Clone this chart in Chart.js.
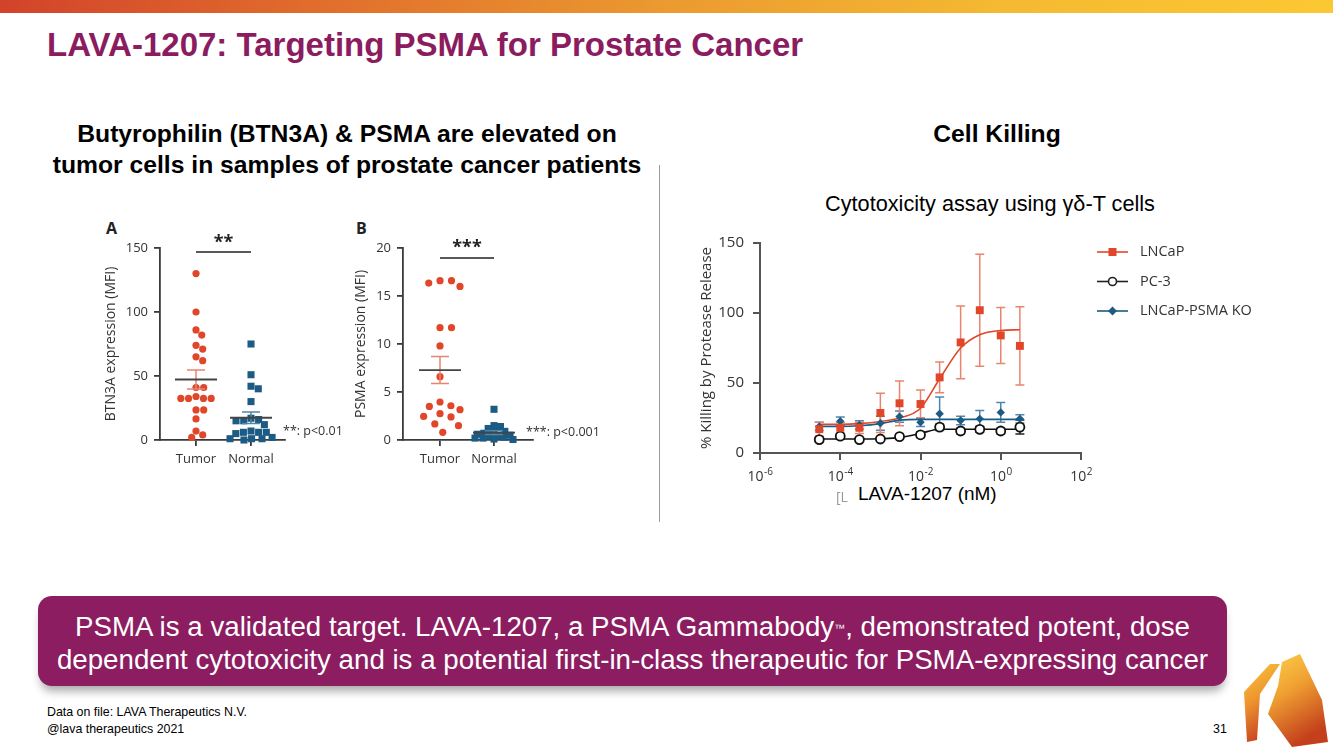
<!DOCTYPE html>
<html><head><meta charset="utf-8">
<script src="https://cdn.jsdelivr.net/npm/chart.js@4.4.1/dist/chart.umd.min.js"></script>
<style>
html,body{margin:0;padding:0;}
body{width:1333px;height:749px;position:relative;overflow:hidden;background:#fff;font-family:"Liberation Sans",Arial,sans-serif;color:#000;}
.a{position:absolute;white-space:nowrap;}
canvas{position:absolute;}
#topbar{left:0;top:0;width:1333px;height:13px;background:linear-gradient(to right,#d2432a 0%,#e06a2c 22%,#eb9a30 50%,#f5b932 75%,#fcc832 100%);}
#title{left:47px;top:28px;font-size:33px;font-weight:bold;color:#8a1c5f;line-height:33px;}
#hl{left:0;top:118px;width:694px;text-align:center;font-size:24.7px;font-weight:bold;line-height:31px;}
#hr{left:797px;top:118px;width:400px;text-align:center;font-size:24.7px;font-weight:bold;line-height:31px;}
#sub{left:790px;top:192px;width:400px;text-align:center;font-size:21.7px;line-height:24px;}
#divider{left:659px;top:165px;width:1px;height:357px;background:#9a9a9a;}
.fig{font-family:"Open Sans",sans-serif;color:#333;}
#box{left:38px;top:596px;width:1189px;height:90px;border-radius:14px;background:#8b1d60;box-shadow:0 8px 10px -3px rgba(0,0,0,0.35);}
#boxtxt{left:38px;top:610px;width:1189px;text-align:center;color:#fff;font-size:27.7px;line-height:33px;}
#boxtxt sup{font-size:11px;vertical-align:top;position:relative;top:2px;}
.foot{font-size:12.4px;line-height:14px;}
</style></head><body>
<div id="topbar" class="a"></div>
<div id="title" class="a">LAVA-1207: Targeting PSMA for Prostate Cancer</div>
<div id="hl" class="a">Butyrophilin (BTN3A) &amp; PSMA are elevated on<br>tumor cells in samples of prostate cancer patients</div>
<div id="hr" class="a">Cell Killing</div>
<div id="sub" class="a">Cytotoxicity assay using γδ-T cells</div>
<div id="divider" class="a"></div>

<div class="a fig" style="left:106px;top:217px;font-size:16px;font-weight:bold;color:#222;">A</div>
<div class="a fig" style="left:356px;top:217px;font-size:16px;font-weight:bold;color:#222;">B</div>
<canvas id="cA" width="200" height="260" style="left:100px;top:215px;"></canvas>
<canvas id="cB" width="260" height="260" style="left:350px;top:215px;"></canvas>
<div class="a fig" style="left:283px;top:422px;font-size:12.5px;">**: p&lt;0.01</div>
<div class="a fig" style="left:526px;top:423px;font-size:12.5px;">***: p&lt;0.001</div>

<canvas id="cK" width="600" height="265" style="left:690px;top:225px;"></canvas>
<div class="a fig" style="left:836px;top:487px;font-size:14px;color:#999;">[L</div>
<div class="a" style="left:856px;top:483px;font-size:19px;line-height:22px;background:#fff;padding:0 2px;">LAVA-1207 (nM)</div>

<div id="box" class="a"></div>
<div id="boxtxt" class="a">PSMA is a validated target. LAVA-1207, a PSMA Gammabody<sup>™</sup>, demonstrated potent, dose<br>dependent cytotoxicity and is a potential first-in-class therapeutic for PSMA-expressing cancer</div>

<div class="a foot" style="left:47px;top:705px;">Data on file: LAVA Therapeutics N.V.</div>
<div class="a foot" style="left:47px;top:722px;">@lava therapeutics 2021</div>
<div class="a foot" style="left:1213px;top:722px;">31</div>
<svg class="a" style="left:1238px;top:652px;" width="94" height="97" viewBox="0 0 94 97">
  <defs>
    <linearGradient id="lg1" x1="0" y1="0" x2="0.3" y2="1">
      <stop offset="0" stop-color="#f9c93a"/><stop offset="0.5" stop-color="#ee9430"/><stop offset="1" stop-color="#c9451f"/>
    </linearGradient>
    <linearGradient id="lg2" x1="0" y1="0" x2="0.4" y2="1">
      <stop offset="0" stop-color="#fbd24a"/><stop offset="0.45" stop-color="#f0a032"/><stop offset="1" stop-color="#c4401c"/>
    </linearGradient>
  </defs>
  <polygon points="6,40 32,12 42,12 22,42 19,88 9,90" fill="url(#lg1)"/>
  <polygon points="44,10 62,2 84,48 90,90 54,95 30,62 40,34" fill="url(#lg2)"/>
</svg>

<script>
// ---------- data ----------
const groups = ['Tumor', 'Normal'];
const btn3aTumor  = [130, 100, 86, 82, 74, 71, 65, 62, 41, 41, 34, 32.5, 32.5, 32.5, 32.5, 23.5, 23.5, 16.5, 7, 4, 2];
const btn3aNormal = [75, 51, 42, 40, 30, 17, 16, 15, 15, 12, 7, 6, 6, 6, 5, 2, 1, 1, 1, 0];
const psmaTumor   = [16.6, 16.6, 16.35, 16.0, 11.7, 11.7, 9.8, 6.6, 3.96, 3.57, 3.5, 3.16, 2.74, 2.46, 2.4, 1.67, 1.49, 0.8];
const psmaNormal  = [3.2, 1.5, 1.4, 1.2, 0.9, 0.8, 0.7, 0.6, 0.5, 0.4, 0.4, 0.3, 0.2, 0.2, 0.1, 0.05];

const seriesNames = ['LNCaP', 'PC-3', 'LNCaP-PSMA KO'];
const concNM    = [0.00003, 0.0001, 0.0003, 0.001, 0.003, 0.01, 0.03, 0.1, 0.3, 1, 3];
const lncapMean = [17, 18, 18, 28.6, 35.5, 35, 54, 79, 102, 84, 76.5];
const lncapErr  = [5, 4, 4, 14, 16, 10, 11, 26, 40, 20, 28];
const lncapFit  = [20.5, 20.5, 21, 22.5, 25, 32, 53, 75, 84.5, 87.5, 88];
const pc3Mean   = [9.6, 12, 9.6, 10, 11.7, 13, 18.5, 15.7, 16.9, 15.7, 18.5];
const pc3Err    = [1.5, 2, 1, 1, 1.5, 2, 2, 2, 2, 2, 5];
const pc3Fit    = [10, 10, 10, 10.2, 11, 14, 17, 17, 17, 17, 17];
const koMean    = [19, 22.7, 20, 21.3, 26, 22, 28, 23.2, 24.4, 29, 24.4];
const koErr     = [3, 3, 3, 5, 4, 3, 12, 3, 6, 7, 3];
const koFit     = [19, 19, 19.5, 21, 23.5, 24, 24, 24, 24, 24, 24];
const xTickExponents = [-6, -4, -2, 0, 2];

// ---------- styles ----------
const RED = '#e0472a', RED_ERR = '#e9846e', BLUE = '#1b5b84', BLUE_ERR = '#4f86ab', INK = '#333', AXIS = '#3a3a3a';

function swarm(values, yPix, diam, maxHalf) {
  const order = values.map((v, i) => i).sort((a, b) => values[b] - values[a]);
  const placed = [], xs = new Array(values.length);
  for (const i of order) {
    const y = yPix(values[i]);
    const cands = [0];
    for (const p of placed) {
      const dy = Math.abs(p.y - y);
      if (dy < diam) { const dx = Math.sqrt(diam * diam - dy * dy); cands.push(p.x + dx + 0.01, p.x - dx - 0.01); }
    }
    cands.sort((a, b) => Math.abs(a) - Math.abs(b));
    let best = null;
    for (const c of cands) {
      if (Math.abs(c) > maxHalf) continue;
      if (placed.every(p => (p.x - c) ** 2 + (p.y - y) ** 2 >= diam * diam - 0.1)) { best = c; break; }
    }
    if (best === null) {
      let bestScore = Infinity;
      for (let c = -maxHalf; c <= maxHalf; c += 1) {
        const score = placed.reduce((s, p) => s + Math.max(0, diam - Math.hypot(p.x - c, p.y - y)), 0);
        if (score < bestScore - 1e-9) { bestScore = score; best = c; }
      }
    }
    placed.push({ x: best, y });
    xs[i] = best;
  }
  return xs;
}

function statsPlugin(cfg) {
  return { id: 'stats', afterDatasetsDraw(chart) {
    const { ctx, scales: { x, y } } = chart;
    [cfg.tumor, cfg.normal].forEach((vals, gi) => {
      const n = vals.length, mean = vals.reduce((a, b) => a + b, 0) / n;
      const sd = Math.sqrt(vals.reduce((a, b) => a + (b - mean) ** 2, 0) / (n - 1));
      const sem = sd / Math.sqrt(n);
      const cx = x.getPixelForValue(gi + 1);
      const yt = y.getPixelForValue(mean + sem), yb = y.getPixelForValue(Math.max(0, mean - sem)), ym = y.getPixelForValue(mean);
      ctx.save();
      ctx.strokeStyle = gi === 0 ? RED_ERR : BLUE_ERR; ctx.lineWidth = 1.5;
      ctx.beginPath();
      ctx.moveTo(cx, yt); ctx.lineTo(cx, yb);
      ctx.moveTo(cx - 9, yt); ctx.lineTo(cx + 9, yt);
      ctx.moveTo(cx - 9, yb); ctx.lineTo(cx + 9, yb);
      ctx.stroke();
      ctx.strokeStyle = '#444'; ctx.lineWidth = 1.8;
      ctx.beginPath(); ctx.moveTo(cx - 21, ym); ctx.lineTo(cx + 21, ym); ctx.stroke();
      ctx.restore();
    });
  }};
}

function sigPlugin(cfg) {
  return { id: 'sig', afterDraw(chart) {
    const { ctx, chartArea, scales: { x } } = chart;
    const x1 = x.getPixelForValue(1), x2 = x.getPixelForValue(2), yl = chartArea.top + cfg.sigOffset;
    ctx.save();
    ctx.strokeStyle = '#222'; ctx.lineWidth = 1.5;
    ctx.beginPath(); ctx.moveTo(x1, yl); ctx.lineTo(x2, yl); ctx.stroke();
    ctx.fillStyle = '#222'; ctx.font = 'bold 18px "Open Sans"'; ctx.textAlign = 'center'; ctx.textBaseline = 'middle';
    ctx.fillText(cfg.stars, (x1 + x2) / 2, yl - cfg.starGap);
    ctx.restore();
  }};
}

function makeDotPlot(id, cfg) {
  const chart = new Chart(document.getElementById(id), {
    type: 'scatter',
    data: { datasets: [
      { data: cfg.tumor.map(v => ({ x: 1, y: v })), pointStyle: 'circle', pointRadius: 3.6, backgroundColor: RED, borderWidth: 0, clip: false },
      { data: cfg.normal.map(v => ({ x: 2, y: v })), pointStyle: 'rect', pointRadius: 5, backgroundColor: BLUE, borderWidth: 0, clip: false }
    ]},
    options: {
      responsive: false, animation: false, events: [],
      layout: { padding: { left: 0, top: 33, right: cfg.padRight, bottom: 0 } },
      plugins: { legend: { display: false }, tooltip: { enabled: false } },
      scales: {
        x: { type: 'linear', min: cfg.xMin, max: cfg.xMax,
          afterBuildTicks: s => { s.ticks = [{ value: 1 }, { value: 2 }]; },
          afterFit: s => { s.height = 35; },
          ticks: { callback: v => groups[Math.round(v) - 1], font: { family: 'Open Sans', size: 13 }, color: INK, padding: 5, maxRotation: 0, autoSkip: false },
          grid: { drawOnChartArea: false, color: AXIS, tickLength: 6, lineWidth: 1.8 },
          border: { color: AXIS, width: 1.8 } },
        y: { min: 0, max: cfg.yMax,
          afterFit: s => { s.width = cfg.yWidth; },
          ticks: { stepSize: cfg.yStep, font: { family: 'Open Sans', size: 13 }, color: INK, padding: 6 },
          grid: { drawOnChartArea: false, color: AXIS, tickLength: 6, lineWidth: 1.8 },
          border: { color: AXIS, width: 1.8 },
          title: { display: true, text: cfg.yTitle, font: { family: 'Open Sans', size: 14 }, color: INK, padding: { top: 3, bottom: 0 } } }
      }
    },
    plugins: [statsPlugin(cfg), sigPlugin(cfg)]
  });
  const xs = chart.scales.x, ys = chart.scales.y;
  const ppu = xs.getPixelForValue(2) - xs.getPixelForValue(1);
  [cfg.tumor, cfg.normal].forEach((vals, gi) => {
    const sp = cfg.swarm[gi];
    const offs = swarm(vals, v => ys.getPixelForValue(v), sp.diam, sp.maxHalf);
    chart.data.datasets[gi].data = vals.map((v, i) => ({ x: gi + 1 + offs[i] / ppu, y: v }));
  });
  chart.update('none');
  return chart;
}

makeDotPlot('cA', { tumor: btn3aTumor, normal: btn3aNormal, yMax: 150, yStep: 50, yTitle: 'BTN3A expression (MFI)',
  xMin: 0.3455, xMax: 2.618, padRight: 15, yWidth: 60, stars: '**', sigOffset: 4, starGap: 9,
  swarm: [{ diam: 7.7, maxHalf: 24 }, { diam: 7.7, maxHalf: 24 }] });
makeDotPlot('cB', { tumor: psmaTumor, normal: psmaNormal, yMax: 20, yStep: 5, yTitle: 'PSMA expression (MFI)',
  xMin: 0.315, xMax: 2.722, padRight: 77, yWidth: 53, stars: '***', sigOffset: 10, starGap: 10,
  swarm: [{ diam: 11.5, maxHalf: 20 }, { diam: 6.5, maxHalf: 19 }] });

// ---------- killing curve ----------
const pts = arr => concNM.map((c, i) => ({ x: c, y: arr[i] }));
const errSeries = [
  { mean: pc3Mean, err: pc3Err, color: '#222' },
  { mean: koMean, err: koErr, color: BLUE_ERR },
  { mean: lncapMean, err: lncapErr, color: RED_ERR }
];
const errPlugin = { id: 'err', beforeDatasetsDraw(chart) {
  const { ctx, scales: { x, y } } = chart;
  errSeries.forEach(s => {
    ctx.save(); ctx.strokeStyle = s.color; ctx.lineWidth = 1.5; ctx.beginPath();
    concNM.forEach((c, i) => {
      const px = x.getPixelForValue(c), t = y.getPixelForValue(s.mean[i] + s.err[i]), b = y.getPixelForValue(Math.max(0, s.mean[i] - s.err[i]));
      ctx.moveTo(px, t); ctx.lineTo(px, b);
      ctx.moveTo(px - 4.5, t); ctx.lineTo(px + 4.5, t);
      ctx.moveTo(px - 4.5, b); ctx.lineTo(px + 4.5, b);
    });
    ctx.stroke(); ctx.restore();
  });
}};
const legendItems = [
  { name: seriesNames[0], color: RED, shape: 'square' },
  { name: seriesNames[1], color: '#222', shape: 'circle' },
  { name: seriesNames[2], color: BLUE, shape: 'diamond' }
];
const legendPlugin = { id: 'lgd', afterDraw(chart) {
  const ctx = chart.ctx;
  legendItems.forEach((it, i) => {
    const yy = 27 + i * 29.5, cx = 422.5;
    ctx.save();
    ctx.strokeStyle = it.color; ctx.lineWidth = 1.6;
    ctx.beginPath(); ctx.moveTo(407, yy); ctx.lineTo(438, yy); ctx.stroke();
    ctx.fillStyle = it.color;
    if (it.shape === 'square') { ctx.fillRect(cx - 4, yy - 4, 8, 8); }
    else if (it.shape === 'circle') { ctx.fillStyle = '#fff'; ctx.lineWidth = 1.6; ctx.beginPath(); ctx.arc(cx, yy, 4, 0, Math.PI * 2); ctx.fill(); ctx.stroke(); }
    else { ctx.beginPath(); ctx.moveTo(cx, yy - 4.5); ctx.lineTo(cx + 4.5, yy); ctx.lineTo(cx, yy + 4.5); ctx.lineTo(cx - 4.5, yy); ctx.closePath(); ctx.fill(); }
    ctx.fillStyle = INK; ctx.font = '14.5px "Open Sans"'; ctx.textAlign = 'left'; ctx.textBaseline = 'middle';
    ctx.fillText(it.name, 450, yy);
    ctx.restore();
  });
}};
const xLabelPlugin = { id: 'xl', afterDraw(chart) {
  const { ctx, scales: { x }, chartArea } = chart;
  ctx.save();
  xTickExponents.forEach(e => {
    const px = x.getPixelForValue(Math.pow(10, e));
    ctx.font = '14px "Open Sans"'; const w1 = ctx.measureText('10').width;
    const es = String(e);
    ctx.font = '10px "Open Sans"'; const w2 = ctx.measureText(es).width;
    const x0 = px - (w1 + w2) / 2, base = chartArea.bottom + 28;
    ctx.fillStyle = INK; ctx.textAlign = 'left'; ctx.textBaseline = 'alphabetic';
    ctx.font = '14px "Open Sans"'; ctx.fillText('10', x0, base);
    ctx.font = '10px "Open Sans"'; ctx.fillText(es, x0 + w1 + 0.5, base - 6);
  });
  ctx.restore();
}};

new Chart(document.getElementById('cK'), {
  type: 'scatter',
  data: { datasets: [
    { label: seriesNames[0], data: pts(lncapMean), pointStyle: 'rect', pointRadius: 5.6, backgroundColor: RED, borderWidth: 0, clip: false },
    { label: seriesNames[2], data: pts(koMean), pointStyle: 'rectRot', pointRadius: 4.2, backgroundColor: BLUE, borderWidth: 0, clip: false },
    { label: seriesNames[1], data: pts(pc3Mean), pointStyle: 'circle', pointRadius: 4.5, backgroundColor: '#fff', borderColor: '#111', borderWidth: 1.8, clip: false },
    { data: pts(lncapFit), showLine: true, borderColor: RED, borderWidth: 1.6, pointRadius: 0, cubicInterpolationMode: 'monotone', clip: false },
    { data: pts(koFit), showLine: true, borderColor: BLUE, borderWidth: 1.6, pointRadius: 0, cubicInterpolationMode: 'monotone', clip: false },
    { data: pts(pc3Fit), showLine: true, borderColor: '#111', borderWidth: 1.6, pointRadius: 0, cubicInterpolationMode: 'monotone', clip: false }
  ]},
  options: {
    responsive: false, animation: false, events: [],
    layout: { padding: { left: 0, top: 15, right: 209, bottom: 0 } },
    plugins: { legend: { display: false }, tooltip: { enabled: false } },
    scales: {
      x: { type: 'logarithmic', min: 1e-6, max: 100,
        afterBuildTicks: s => { s.ticks = xTickExponents.map(e => ({ value: Math.pow(10, e) })); },
        afterFit: s => { s.height = 37; },
        ticks: { display: false },
        grid: { drawOnChartArea: false, color: '#555', tickLength: 7, lineWidth: 2 },
        border: { color: '#555', width: 2 } },
      y: { min: 0, max: 150,
        afterFit: s => { s.width = 70; },
        ticks: { stepSize: 50, font: { family: 'Open Sans', size: 15 }, color: INK, padding: 9 },
        grid: { drawOnChartArea: false, color: '#555', tickLength: 7, lineWidth: 2 },
        border: { color: '#555', width: 2 },
        title: { display: true, text: '% Killing by Protease Release', font: { family: 'Open Sans', size: 15 }, color: INK, padding: { top: 8, bottom: 0 } } }
    }
  },
  plugins: [errPlugin, legendPlugin, xLabelPlugin]
});
</script>
</body></html>
